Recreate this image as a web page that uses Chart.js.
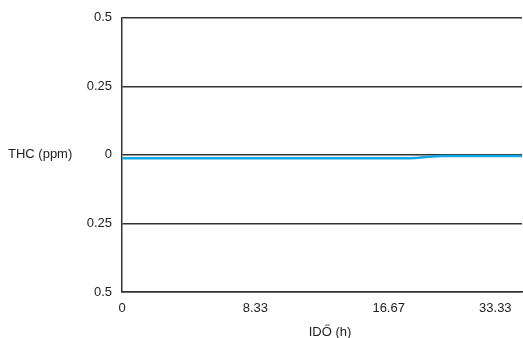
<!DOCTYPE html>
<html>
<head>
<meta charset="utf-8">
<script src="https://cdn.jsdelivr.net/npm/chart.js@4/dist/chart.umd.min.js"></script>
<style>
html,body{margin:0;padding:0;background:#fff;overflow:hidden;}
#wrap{width:523px;height:338px;overflow:hidden;}
</style>
</head>
<body>
<div id="wrap"><canvas id="c" width="531" height="338"></canvas></div>
<script>
// Category positions along the time axis (tick labels where shown)
const hours = ['0','','','','','','','','','','8.33','','','','','','','','','','16.67','','','','','','','','33.33','',''];
// THC series (ppm)
const thc = [-0.012,-0.012,-0.012,-0.012,-0.012,-0.012,-0.012,-0.012,-0.012,-0.012,
             -0.012,-0.012,-0.012,-0.012,-0.012,-0.012,-0.012,-0.012,-0.012,-0.012,
             -0.012,-0.012,-0.011,-0.007,-0.004,-0.004,-0.004,-0.004,-0.004,-0.004,-0.004];
// Y tick labels, bottom to top
const yTickLabels = ['0.5','0.25','0','0.25','0.5'];
const yTitle = 'THC (ppm)';
const xTitle = 'IDŐ (h)';

const FONT = 'Arial, "Liberation Sans", sans-serif';

const titlePlugin = {
  id: 'titles',
  afterDraw(chart) {
    const ctx = chart.ctx;
    ctx.save();
    ctx.fillStyle = '#222';
    ctx.font = '13px ' + FONT;
    ctx.textBaseline = 'middle';
    ctx.textAlign = 'left';
    ctx.fillText(yTitle, 8, chart.scales.y.getPixelForValue(0));
    ctx.textAlign = 'center';
    ctx.fillText(xTitle, 330, 332);
    ctx.restore();
  }
};

new Chart(document.getElementById('c'), {
  type: 'line',
  data: {
    labels: hours,
    datasets: [{
      data: thc,
      borderColor: '#14a8e4',
      borderWidth: 2.5,
      pointRadius: 0,
      tension: 0.4,
      cubicInterpolationMode: 'monotone',
      fill: false
    }]
  },
  options: {
    responsive: false,
    animation: false,
    layout: { padding: { left: 0, right: 0, top: 16, bottom: 0 } },
    plugins: { legend: { display: false }, tooltip: { enabled: false } },
    scales: {
      x: {
        type: 'category',
        grid: { display: false, drawTicks: false },
        border: { display: true, color: '#333', width: 1.5 },
        ticks: {
          autoSkip: false, maxRotation: 0, padding: 9,
          color: '#222', font: { family: FONT, size: 13 },
          callback: function(v, i) { return hours[i]; }
        },
        afterFit: s => { s.height = 46; }
      },
      y: {
        min: -0.5, max: 0.5,
        grid: { color: '#333', lineWidth: 1.5, drawTicks: false },
        border: { display: true, color: '#333', width: 1.5 },
        ticks: {
          stepSize: 0.25, padding: 10,
          color: '#222', font: { family: FONT, size: 13 },
          callback: function(v, i) { return yTickLabels[i]; }
        },
        afterFit: s => { s.width = 122; }
      }
    }
  },
  plugins: [titlePlugin]
});
</script>
</body>
</html>
